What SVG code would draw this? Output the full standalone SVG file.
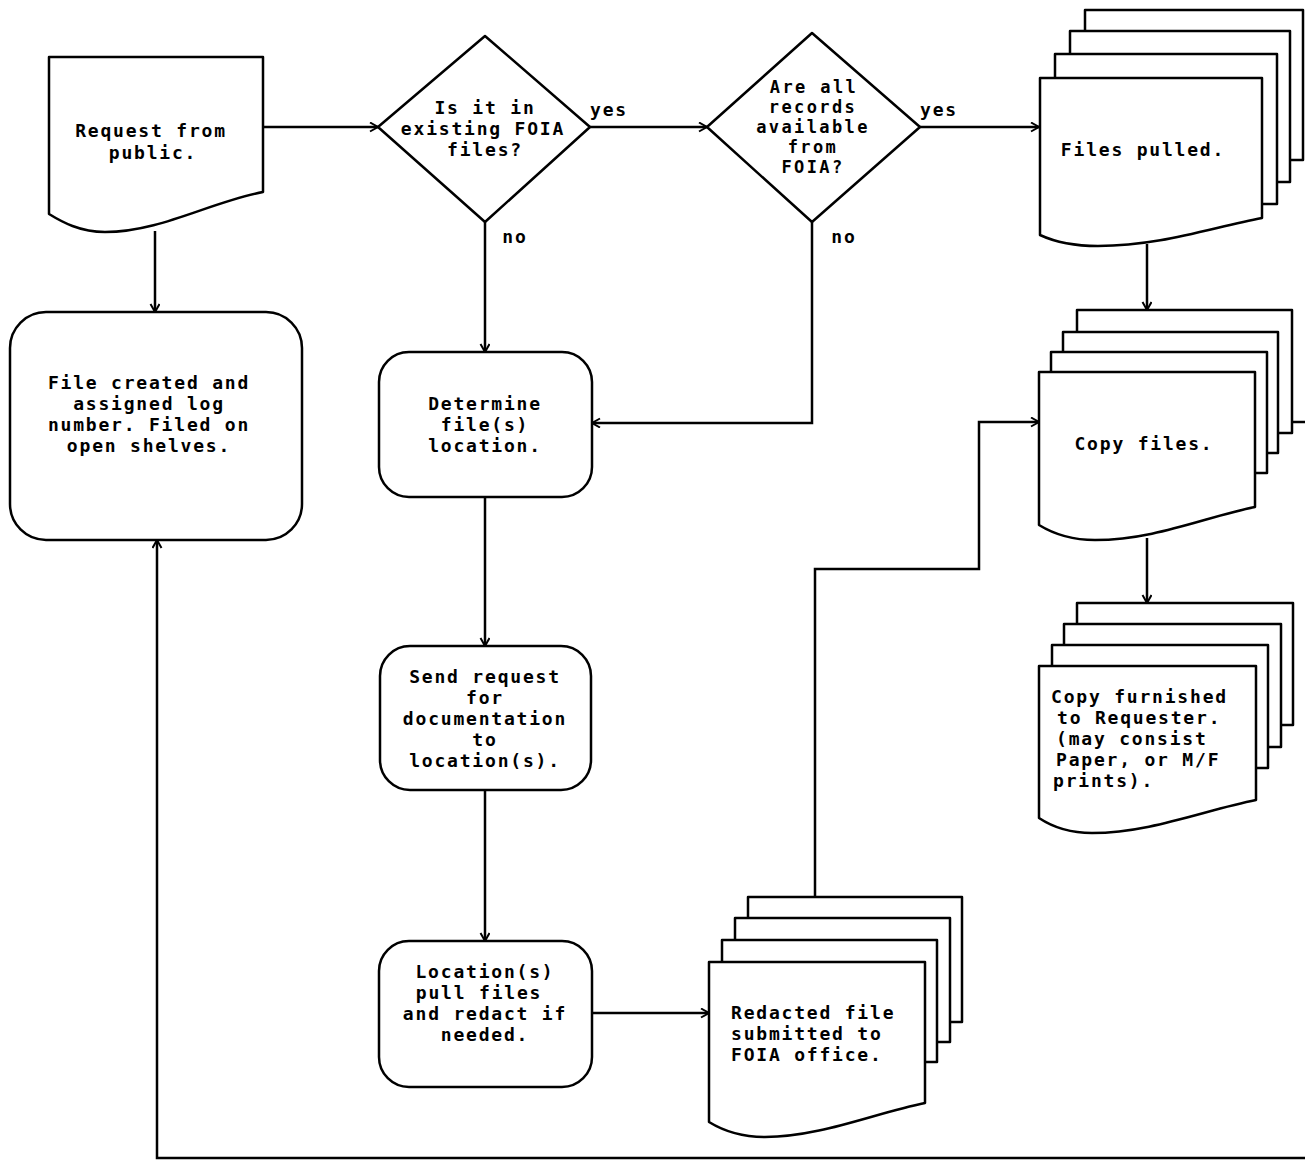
<svg xmlns="http://www.w3.org/2000/svg" width="1305" height="1161" viewBox="0 0 1305 1161">
<style>
.s{fill:#fff;stroke:#000;stroke-width:2.5;stroke-linejoin:round}
.c{fill:none;stroke:#000;stroke-width:2.5}
.t{font-family:"DejaVu Sans Mono","Liberation Mono",monospace;font-size:18px;letter-spacing:1.8px;font-weight:bold;fill:#000;text-anchor:middle}
.sm{font-size:17px;letter-spacing:2.4px}
.l{text-anchor:start}
</style>
<defs>
<marker id="a" markerWidth="12" markerHeight="12" refX="9" refY="5" orient="auto" markerUnits="userSpaceOnUse">
<path d="M1,0.5 L9,5 L1,9.5" fill="none" stroke="#000" stroke-width="2"/>
</marker>
</defs>
<rect width="1305" height="1161" fill="#fff"/>

<g id="connectors">
<path class="c" d="M263,127 H378" marker-end="url(#a)"/>
<path class="c" d="M590,127 H707" marker-end="url(#a)"/>
<path class="c" d="M920,127 H1039" marker-end="url(#a)"/>
<path class="c" d="M485,222 V352" marker-end="url(#a)"/>
<path class="c" d="M812,222 V423 H592" marker-end="url(#a)"/>
<path class="c" d="M155,231 V312" marker-end="url(#a)"/>
<path class="c" d="M1147,244 V310" marker-end="url(#a)"/>
<path class="c" d="M1147,538 V603" marker-end="url(#a)"/>
<path class="c" d="M485,497 V646" marker-end="url(#a)"/>
<path class="c" d="M485,790 V941" marker-end="url(#a)"/>
<path class="c" d="M592,1013 H709" marker-end="url(#a)"/>
<path class="c" d="M815,897 V569 H979 V422 H1039" marker-end="url(#a)"/>
<path class="c" d="M1305,1158 H157 V540" marker-end="url(#a)"/>
<path class="c" d="M1292,422 H1305"/>
<text class="t" x="609" y="116">yes</text>
<text class="t" x="515" y="243">no</text>
<text class="t" x="939" y="116">yes</text>
<text class="t" x="844" y="243">no</text>
</g>

<g id="request">
<path class="s" d="M49,57 H263 V192 C210,202 160,232 105,232 C80,232 62,222 49,214 Z"/>
<text class="t" x="151" y="137">Request from</text>
<text class="t" x="153" y="159">public.</text>
</g>

<g id="decision1">
<path class="s" d="M485,36 L590,127 L485,222 L378,127 Z"/>
<text class="t" x="485" y="114">Is it in</text>
<text class="t" x="483" y="135">existing FOIA</text>
<text class="t" x="485" y="156">files?</text>
</g>

<g id="decision2">
<path class="s" d="M812,33 L920,127 L812,222 L707,127 Z"/>
<text class="t sm" x="814" y="93">Are all</text>
<text class="t sm" x="813" y="113">records</text>
<text class="t sm" x="813" y="133">available</text>
<text class="t sm" x="813" y="153">from</text>
<text class="t sm" x="813" y="173">FOIA?</text>
</g>

<g id="files-pulled">
<rect class="s" x="1085" y="10" width="218" height="150"/>
<rect class="s" x="1070" y="31" width="220" height="151"/>
<rect class="s" x="1055" y="54" width="222" height="150"/>
<path class="s" d="M1040,78 H1262 V218 C1210,228 1160,246 1098,246 C1072,246 1055,242 1040,235 Z"/>
<text class="t" x="1143" y="156">Files pulled.</text>
</g>

<g id="file-created">
<rect class="s" x="10" y="312" width="292" height="228" rx="36" ry="36"/>
<text class="t" x="149" y="389">File created and</text>
<text class="t" x="149" y="410">assigned log</text>
<text class="t" x="149" y="431">number. Filed on</text>
<text class="t" x="149" y="452">open shelves.</text>
</g>

<g id="determine">
<rect class="s" x="379" y="352" width="213" height="145" rx="30" ry="30"/>
<text class="t" x="485" y="410">Determine</text>
<text class="t" x="485" y="431">file(s)</text>
<text class="t" x="485" y="452">location.</text>
</g>

<g id="send-request">
<rect class="s" x="380" y="646" width="211" height="144" rx="30" ry="30"/>
<text class="t" x="485" y="683">Send request</text>
<text class="t" x="485" y="704">for</text>
<text class="t" x="485" y="725">documentation</text>
<text class="t" x="485" y="746">to</text>
<text class="t" x="485" y="767">location(s).</text>
</g>

<g id="location-pull">
<rect class="s" x="379" y="941" width="213" height="146" rx="30" ry="30"/>
<text class="t" x="485" y="978">Location(s)</text>
<text class="t" x="479" y="999">pull files</text>
<text class="t" x="485" y="1020">and redact if</text>
<text class="t" x="485" y="1041">needed.</text>
</g>

<g id="copy-files">
<rect class="s" x="1077" y="310" width="215" height="123"/>
<rect class="s" x="1063" y="332" width="215" height="121"/>
<rect class="s" x="1051" y="352" width="216" height="121"/>
<path class="s" d="M1039,372 H1255 V507 C1205,517 1155,540 1095,540 C1070,540 1052,533 1039,525 Z"/>
<text class="t" x="1144" y="450">Copy files.</text>
</g>

<g id="copy-furnished">
<rect class="s" x="1077" y="603" width="216" height="122"/>
<rect class="s" x="1064" y="624" width="217" height="123"/>
<rect class="s" x="1052" y="645" width="216" height="123"/>
<path class="s" d="M1039,666 H1256 V800 C1205,810 1150,833 1092,833 C1068,833 1051,826 1039,818 Z"/>
<text class="t l" x="1051" y="703">Copy furnished</text>
<text class="t l" x="1057" y="724">to Requester.</text>
<text class="t l" x="1056" y="745">(may consist</text>
<text class="t l" x="1056" y="766">Paper, or M/F</text>
<text class="t l" x="1053" y="787">prints).</text>
</g>

<g id="redacted">
<rect class="s" x="748" y="897" width="214" height="125"/>
<rect class="s" x="735" y="918" width="215" height="124"/>
<rect class="s" x="722" y="940" width="215" height="122"/>
<path class="s" d="M709,962 H925 V1103 C875,1113 820,1137 765,1137 C740,1137 722,1130 709,1122 Z"/>
<text class="t l" x="731" y="1019">Redacted file</text>
<text class="t l" x="731" y="1040">submitted to</text>
<text class="t l" x="731" y="1061">FOIA office.</text>
</g>
</svg>
